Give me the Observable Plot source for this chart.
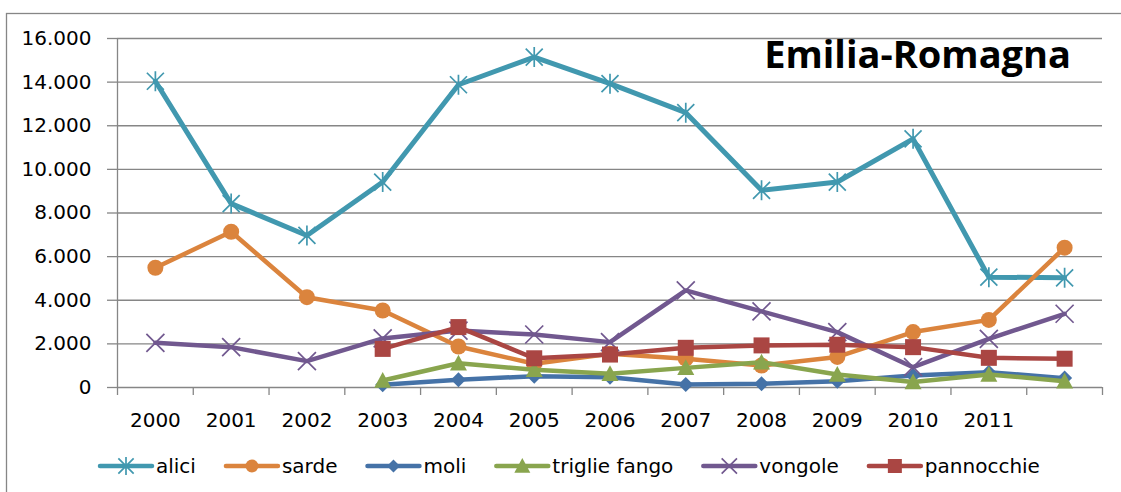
<!DOCTYPE html>
<html><head><meta charset="utf-8">
<script src="https://cdn.jsdelivr.net/npm/d3@7"></script>
<script src="https://cdn.jsdelivr.net/npm/@observablehq/plot@0.6"></script>
<style>
html,body{margin:0;padding:0;background:#fff;}
#wrap{position:relative;width:1121px;height:492px;overflow:hidden;background:#fff;}
#wrap svg{position:absolute;left:0;top:0;}
</style></head><body><div id="wrap"></div>
<script>
// ---- data ----
const years = [2000, 2001, 2002, 2003, 2004, 2005, 2006, 2007, 2008, 2009, 2010, 2011, 2012];
const xTickLabels = ["2000", "2001", "2002", "2003", "2004", "2005", "2006", "2007", "2008", "2009", "2010", "2011"];
const yTicks = [0, 2000, 4000, 6000, 8000, 10000, 12000, 14000, 16000];
const alici = [14040, 8430, 6970, 9420, 13880, 15150, 13930, 12600, 9040, 9420, 11400, 5060, 5030];
const sarde = [5490, 7140, 4140, 3530, 1880, 1090, 1550, 1320, 1010, 1400, 2540, 3100, 6410];
const moli = [null, null, null, 130, 350, 520, 470, 140, 170, 290, 550, 700, 430];
const triglieFango = [null, null, null, 320, 1110, 810, 630, 900, 1160, 600, 250, 600, 290];
const vongole = [2050, 1850, 1210, 2250, 2610, 2430, 2080, 4450, 3490, 2540, 930, 2230, 3380];
const pannocchie = [null, null, null, 1770, 2770, 1340, 1510, 1820, 1930, 1960, 1850, 1360, 1320];
const seriesNames = ["alici", "sarde", "moli", "triglie fango", "vongole", "pannocchie"];
const seriesColors = ["#4198AF", "#DB843D", "#4572A7", "#89A54E", "#71588F", "#AA4643"];
const title = "Emilia-Romagna";

// ---- symbols ----
const rOf = s => Math.sqrt(s / Math.PI);
const symStar = {draw(c, s) { const r = rOf(s), d = r * 0.85;
  c.moveTo(-d, -d); c.lineTo(d, d); c.moveTo(-d, d); c.lineTo(d, -d); c.moveTo(0, -r); c.lineTo(0, r); }};
const symTimes = {draw(c, s) { const d = rOf(s) * 0.9;
  c.moveTo(-d, -d); c.lineTo(d, d); c.moveTo(-d, d); c.lineTo(d, -d); }};
const symSquare = {draw(c, s) { const r = rOf(s); c.rect(-r, -r, 2 * r, 2 * r); }};
const symDiamond = {draw(c, s) { const r = rOf(s);
  c.moveTo(0, -r); c.lineTo(r, 0); c.lineTo(0, r); c.lineTo(-r, 0); c.closePath(); }};
const symTriangle = {draw(c, s) { const r = rOf(s);
  c.moveTo(0, -r); c.lineTo(r, 0.85 * r); c.lineTo(-r, 0.85 * r); c.closePath(); }};
const symCircle = d3.symbolCircle;

const seriesValues = [alici, sarde, moli, triglieFango, vongole, pannocchie];
const seriesSymbols = [symStar, symCircle, symDiamond, symTriangle, symTimes, symSquare];
const seriesFilled = [false, true, true, true, false, true];
const markerR = [10, 8, 7.5, 8.5, 10, 8];
const legendR = [9, 6.5, 6.5, 8, 8.5, 7];

const fmt = d => d3.format(",")(d).replace(/,/g, ".");
const boundaries = d3.range(1999.5, 2013, 1);
const gridColor = "#868686";
const font = "DejaVu Sans";

const marks = [
  Plot.gridY(yTicks, {stroke: gridColor, strokeOpacity: 1, strokeWidth: 1.3}),
  Plot.ruleX([1999.5], {stroke: gridColor, strokeWidth: 1.3}),
  Plot.axisY(yTicks, {tickSize: 10, tickPadding: 16, tickFormat: fmt, stroke: gridColor, strokeWidth: 1.3,
    fill: "black", label: null, fontSize: 20, fontFamily: font}),
  Plot.axisX(boundaries, {tickSize: 8, tickFormat: () => "", stroke: gridColor, strokeWidth: 1.3, label: null}),
  Plot.axisX(years.slice(0, xTickLabels.length), {tickSize: 0, tickPadding: 25, fill: "black", label: null,
    fontSize: 20, fontFamily: font, tickFormat: d => xTickLabels[years.indexOf(d)]})
];

seriesValues.forEach((vals, k) => {
  const data = years.map((y, i) => ({year: y, value: vals[i]})).filter(d => d.value != null);
  marks.push(Plot.line(data, {x: "year", y: "value", stroke: seriesColors[k],
    strokeWidth: k === 0 ? 5 : 4.5, strokeLinejoin: "round", strokeLinecap: "round"}));
  marks.push(Plot.dot(data, {x: "year", y: "value", r: markerR[k], symbol: seriesSymbols[k],
    fill: seriesFilled[k] ? seriesColors[k] : "none",
    stroke: seriesColors[k], strokeWidth: seriesFilled[k] ? 0 : 1.7}));
});

const chart = Plot.plot({
  width: 1121, height: 492,
  marginLeft: 117, marginRight: 19, marginTop: 38, marginBottom: 105,
  x: {type: "linear", domain: [1999.5, 2012.5], label: null},
  y: {domain: [0, 16000], label: null},
  style: {fontFamily: font, fontSize: "20px", color: "black", background: "white"},
  marks
});
const wrap = document.getElementById("wrap");
wrap.appendChild(chart);

// ---- overlay: border, title, legend ----
const ov = d3.select(wrap).append("svg").attr("width", 1121).attr("height", 492)
  .style("font-family", font);
ov.append("rect").attr("x", 6.5).attr("y", 13.5).attr("width", 1140).attr("height", 500)
  .attr("fill", "none").attr("stroke", gridColor).attr("stroke-width", 1.3);
ov.append("text").attr("x", 1071).attr("y", 68).attr("text-anchor", "end")
  .style("font-family", "Open Sans")
  .attr("font-size", 38).attr("font-weight", 700).attr("fill", "black").text(title);

let lx = 100;
const ly = 466;
seriesNames.forEach((name, k) => {
  const g = ov.append("g");
  g.append("line").attr("x1", lx).attr("x2", lx + 52).attr("y1", ly).attr("y2", ly)
    .attr("stroke", seriesColors[k]).attr("stroke-width", 4.5).attr("stroke-linecap", "round");
  const r = legendR[k];
  g.append("path").attr("transform", `translate(${lx + 26},${ly})`)
    .attr("d", d3.symbol(seriesSymbols[k], r * r * Math.PI)())
    .attr("fill", seriesFilled[k] ? seriesColors[k] : "none")
    .attr("stroke", seriesColors[k]).attr("stroke-width", seriesFilled[k] ? 0 : 1.7);
  const t = g.append("text").attr("x", lx + 56).attr("y", 473).attr("font-size", 20)
    .attr("fill", "black").text(name);
  const w = t.node().getComputedTextLength();
  lx = lx + 56 + w + 30;
});
</script></body></html>
